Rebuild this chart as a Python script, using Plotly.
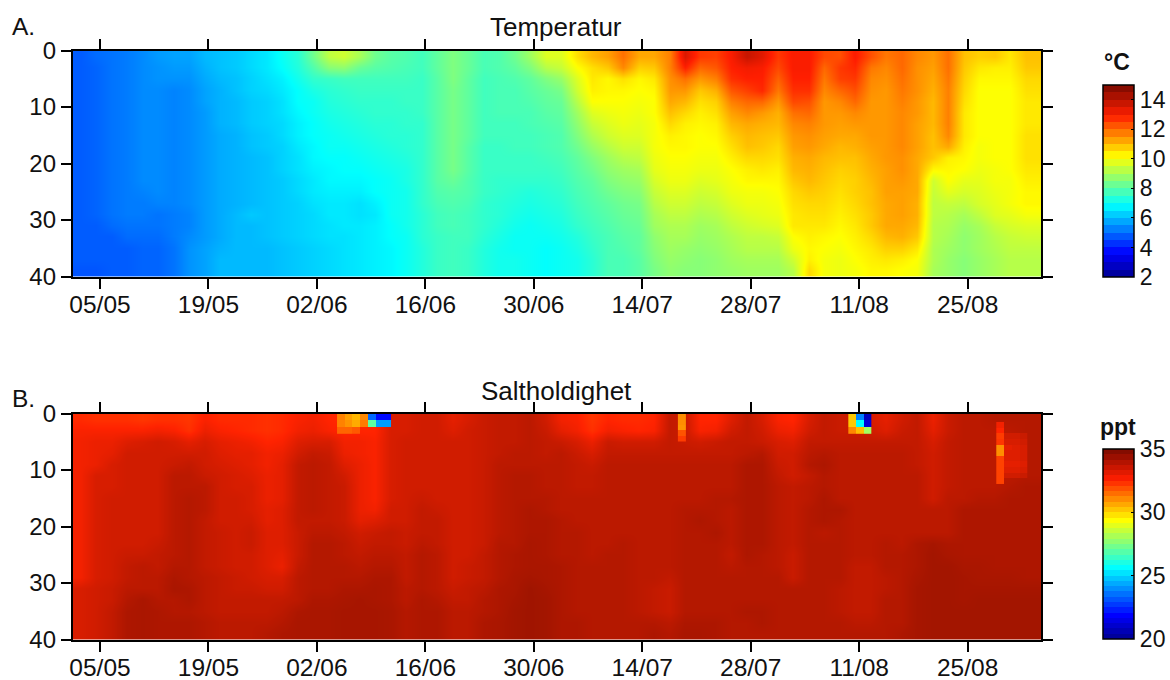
import plotly.graph_objects as go

FONT = "Liberation Sans, Arial, sans-serif"
W, H = 1170, 680

tick_days = [0, 14, 28, 42, 56, 70, 84, 98, 112]
tick_labels = ["05/05", "19/05", "02/06", "16/06", "30/06", "14/07", "28/07", "11/08", "25/08"]
depth_ticks = [0, 10, 20, 30, 40]

# column centres: days after 05/05, two-day cells
days = [-2.5 + 2 * i for i in range(63)]
depths = [1, 3, 5, 7, 9, 11, 13, 15, 17, 19, 21, 23, 25, 27, 29, 31, 33, 35, 37, 39]

# Temperature, one list per date, surface to bottom
temp_cols = [
    [4.8,4.8,4.8,4.8,4.8,4.8,4.8,4.8,4.8,4.8,4.8,4.8,4.8,4.8,4.8,4.8,4.8,4.8,4.8,4.7],
    [5.0,4.9,4.9,4.9,4.9,4.9,4.9,4.9,4.9,4.9,4.9,4.9,4.9,4.9,4.9,4.8,4.8,4.8,4.8,4.7],
    [5.1,5.1,5.1,5.1,5.1,5.1,5.1,5.1,5.1,5.1,5.1,5.1,5.1,5.1,5.1,5.0,4.8,4.8,4.8,4.8],
    [5.2,5.2,5.2,5.2,5.2,5.2,5.2,5.2,5.2,5.2,5.2,5.2,5.2,5.2,5.2,5.1,5.0,4.8,4.8,4.8],
    [5.4,5.4,5.4,5.4,5.4,5.4,5.4,5.4,5.4,5.4,5.4,5.4,5.3,5.2,5.2,5.1,5.0,4.9,4.9,4.9],
    [5.6,5.5,5.5,5.4,5.4,5.4,5.4,5.4,5.4,5.4,5.4,5.4,5.4,5.3,5.1,5.1,5.0,4.9,4.9,4.9],
    [5.7,5.6,5.5,5.3,5.3,5.3,5.3,5.3,5.3,5.3,5.3,5.3,5.3,5.3,5.2,5.2,5.2,5.1,5.1,5.1],
    [5.7,5.6,5.5,5.4,5.4,5.4,5.4,5.4,5.4,5.4,5.4,5.4,5.4,5.4,5.3,5.3,5.4,5.5,5.5,5.5],
    [6.0,5.9,5.8,5.7,5.7,5.6,5.6,5.6,5.6,5.6,5.6,5.6,5.6,5.6,5.6,5.6,5.6,5.7,5.7,5.7],
    [6.1,6.1,6.0,5.9,5.9,5.9,5.9,5.8,5.8,5.8,5.8,5.8,5.8,5.8,5.8,5.8,5.8,5.9,6.0,6.0],
    [6.2,6.2,6.1,6.1,6.0,6.0,6.0,5.9,5.9,5.9,5.9,5.9,5.9,5.9,6.0,6.0,6.0,6.0,6.0,6.0],
    [6.4,6.4,6.3,6.3,6.2,6.2,6.2,6.1,6.1,6.0,6.0,6.0,6.0,6.0,6.2,6.0,6.0,6.0,6.0,6.0],
    [6.6,6.6,6.5,6.4,6.3,6.3,6.3,6.2,6.2,6.1,6.1,6.1,6.1,6.1,6.1,6.1,6.1,6.0,6.0,6.0],
    [7.0,6.9,6.7,6.6,6.5,6.5,6.4,6.4,6.3,6.3,6.3,6.2,6.2,6.2,6.2,6.2,6.2,6.1,6.1,6.1],
    [7.4,7.3,7.1,6.9,6.9,6.8,6.7,6.7,6.6,6.5,6.5,6.4,6.4,6.3,6.3,6.3,6.3,6.2,6.2,6.2],
    [8.3,7.9,7.5,7.2,7.0,7.0,6.9,6.9,6.8,6.8,6.7,6.6,6.6,6.5,6.4,6.4,6.4,6.3,6.3,6.3],
    [9.3,8.6,7.6,7.4,7.3,7.2,7.1,7.0,7.0,6.9,6.8,6.8,6.7,6.6,6.6,6.5,6.5,6.4,6.4,6.4],
    [9.5,8.7,7.7,7.5,7.4,7.3,7.2,7.1,7.0,6.9,6.9,6.8,6.7,6.6,6.6,6.6,6.5,6.5,6.5,6.5],
    [9.0,8.2,7.7,7.6,7.5,7.4,7.3,7.2,7.1,7.0,6.9,6.8,6.7,6.5,6.5,6.6,6.6,6.6,6.6,6.6],
    [8.3,8.0,7.7,7.6,7.5,7.5,7.4,7.3,7.2,7.1,7.0,6.9,6.9,6.7,6.6,6.7,6.7,6.7,6.7,6.7],
    [8.0,7.9,7.7,7.6,7.5,7.5,7.4,7.4,7.3,7.2,7.1,7.0,7.0,7.0,7.0,6.9,6.9,6.8,6.8,6.8],
    [7.9,7.8,7.7,7.6,7.6,7.5,7.5,7.4,7.4,7.3,7.2,7.2,7.1,7.1,7.1,7.1,7.0,7.0,7.0,7.0],
    [7.7,7.7,7.6,7.6,7.6,7.6,7.5,7.5,7.5,7.5,7.5,7.5,7.5,7.5,7.4,7.4,7.4,7.3,7.3,7.3],
    [8.1,8.1,8.0,8.0,8.0,8.0,8.0,8.0,8.0,8.0,8.0,8.0,7.9,7.8,7.7,7.7,7.6,7.6,7.6,7.6],
    [8.5,8.5,8.5,8.4,8.4,8.4,8.4,8.4,8.4,8.4,8.4,8.2,8.0,7.9,7.8,7.8,7.7,7.7,7.7,7.7],
    [8.2,8.2,8.1,8.1,8.1,8.1,8.1,8.1,8.0,8.0,8.0,7.9,7.9,7.8,7.7,7.7,7.7,7.6,7.6,7.6],
    [7.8,7.8,7.7,7.7,7.7,7.7,7.7,7.7,7.6,7.6,7.6,7.6,7.6,7.5,7.5,7.5,7.4,7.3,7.3,7.3],
    [7.9,7.9,7.8,7.8,7.8,7.8,7.7,7.7,7.6,7.6,7.6,7.5,7.5,7.4,7.4,7.3,7.2,7.1,7.1,7.1],
    [8.3,8.1,7.9,7.8,7.8,7.8,7.7,7.7,7.7,7.6,7.6,7.5,7.4,7.3,7.2,7.1,7.0,7.0,7.1,7.1],
    [8.9,8.5,8.1,8.0,7.9,7.8,7.8,7.7,7.7,7.6,7.6,7.5,7.3,7.2,7.1,7.0,7.0,7.0,7.0,7.0],
    [9.7,9.2,8.5,8.2,8.1,8.0,7.9,7.8,7.8,7.7,7.6,7.5,7.4,7.3,7.2,7.1,7.0,6.9,6.9,6.9],
    [9.7,9.4,8.8,8.4,8.2,8.1,8.0,7.9,7.9,7.8,7.7,7.6,7.5,7.4,7.3,7.2,7.1,7.0,7.0,7.0],
    [10.5,10.1,9.7,9.5,9.2,8.9,8.7,8.5,8.3,8.1,8.0,7.9,7.8,7.7,7.6,7.5,7.3,7.2,7.1,7.1],
    [11.0,10.5,10.4,10.3,10.1,9.7,9.4,9.1,8.8,8.5,8.3,8.1,8.0,7.9,7.8,7.7,7.6,7.5,7.4,7.4],
    [11.3,10.8,10.2,10.2,10.1,9.9,9.7,9.5,9.2,8.9,8.7,8.5,8.3,8.1,8.0,7.9,7.8,7.8,7.8,7.8],
    [11.9,11.6,10.5,10.2,10.1,10.0,9.9,9.7,9.5,9.2,8.9,8.7,8.5,8.3,8.2,8.1,8.0,7.9,7.8,7.8],
    [11.2,10.7,10.2,10.1,10.0,9.9,9.8,9.7,9.5,9.3,9.0,8.8,8.6,8.4,8.3,8.2,8.1,8.1,8.0,8.0],
    [11.2,10.8,10.4,10.2,10.1,10.1,10.0,10.0,10.0,9.9,9.8,9.6,9.4,9.2,9.0,8.9,8.7,8.6,8.5,8.4],
    [11.7,11.7,11.5,11.4,11.2,10.9,10.6,10.3,10.2,10.1,10.0,9.9,9.7,9.5,9.3,9.1,9.0,8.9,8.8,8.7],
    [13.5,12.9,11.9,11.4,11.0,10.6,10.3,10.2,10.2,10.1,10.0,9.9,9.7,9.5,9.3,9.1,9.0,8.8,8.7,8.6],
    [12.6,12.0,11.4,10.8,10.5,10.3,10.2,10.1,10.1,10.0,9.9,9.7,9.5,9.3,9.1,8.9,8.8,8.7,8.6,8.6],
    [12.5,12.2,11.7,11.1,10.7,10.5,10.3,10.2,10.1,10.0,9.9,9.8,9.6,9.4,9.2,9.0,8.9,8.8,8.7,8.7],
    [13.0,12.9,12.7,12.2,11.7,11.3,11.0,10.7,10.5,10.3,10.1,10.0,9.9,9.7,9.5,9.3,9.1,9.0,8.9,8.8],
    [13.8,13.1,12.9,12.5,12.0,11.6,11.2,11.0,10.9,10.6,10.3,10.2,10.0,9.9,9.7,9.5,9.3,9.2,9.0,8.9],
    [13.4,13.0,12.9,12.8,12.0,11.4,11.1,10.9,10.8,10.6,10.4,10.2,10.0,9.9,9.8,9.6,9.3,9.2,9.0,8.9],
    [12.6,12.4,12.1,11.8,11.4,11.1,11.0,10.8,10.6,10.5,10.3,10.2,10.1,10.0,9.9,9.7,9.4,9.2,9.0,8.9],
    [13.0,13.0,12.9,12.7,12.4,11.9,11.6,11.4,11.3,11.1,11.0,10.8,10.6,10.5,10.4,10.4,10.1,9.9,9.5,9.2],
    [13.0,13.0,12.9,12.7,12.3,12.0,11.7,11.5,11.4,11.2,11.1,11.0,10.8,10.6,10.5,10.4,10.3,10.2,10.3,10.6],
    [12.4,12.0,11.8,11.6,11.4,11.4,11.4,11.3,11.2,11.0,10.9,10.8,10.7,10.6,10.5,10.4,10.2,10.1,10.0,10.0],
    [12.3,12.6,12.5,12.0,11.6,11.4,11.3,11.2,11.0,10.9,10.7,10.6,10.5,10.4,10.3,10.2,10.1,10.0,9.9,9.9],
    [13.0,12.8,12.6,12.3,12.0,11.6,11.4,11.2,11.1,10.9,10.8,10.7,10.7,10.6,10.5,10.4,10.3,10.2,10.1,10.0],
    [12.3,11.8,11.6,11.5,11.4,11.4,11.4,11.4,11.3,11.2,11.1,11.0,10.9,10.9,10.8,10.8,10.6,10.4,10.3,10.2],
    [11.8,11.6,11.5,11.4,11.4,11.4,11.4,11.4,11.4,11.4,11.3,11.3,11.3,11.2,11.2,11.2,11.0,10.7,10.4,10.2],
    [12.0,12.0,11.9,11.8,11.7,11.6,11.6,11.6,11.6,11.5,11.5,11.4,11.3,11.3,11.3,11.2,11.1,10.7,10.3,10.1],
    [11.6,11.5,11.5,11.5,11.4,11.4,11.3,11.3,11.3,11.2,11.2,11.2,11.2,11.1,11.1,11.0,10.8,10.4,10.1,10.0],
    [11.4,11.3,11.2,11.1,11.0,11.0,11.0,10.9,10.9,10.8,10.2,9.5,9.4,9.3,9.3,9.2,9.2,9.1,9.1,9.0],
    [11.9,11.9,11.8,11.7,11.7,11.7,11.7,11.6,11.2,10.3,10.2,10.1,9.8,9.4,9.2,9.1,9.0,8.9,8.8,8.8],
    [10.9,10.8,10.7,10.6,10.5,10.4,10.4,10.4,10.3,10.2,10.1,9.8,9.6,9.3,9.0,8.8,8.7,8.7,8.6,8.6],
    [10.7,10.4,10.2,10.1,10.1,10.1,10.1,10.1,10.0,10.0,9.9,9.8,9.7,9.6,9.3,9.0,8.9,8.9,8.8,8.8],
    [10.8,10.3,10.2,10.1,10.1,10.1,10.1,10.1,10.1,10.1,10.0,10.0,9.9,9.8,9.7,9.4,9.2,9.1,9.0,9.0],
    [10.4,10.3,10.2,10.1,10.1,10.1,10.1,10.1,10.1,10.1,10.1,10.0,10.0,10.0,9.8,9.6,9.4,9.3,9.2,9.2],
    [10.9,10.8,10.6,10.5,10.4,10.4,10.4,10.5,10.5,10.5,10.4,10.3,10.2,10.2,10.0,9.7,9.5,9.3,9.2,9.2],
    [10.9,10.8,10.6,10.5,10.4,10.4,10.4,10.5,10.5,10.5,10.4,10.3,10.2,10.2,10.0,9.7,9.5,9.3,9.2,9.2],
]

# Salinity, one list per date, surface to bottom
salt_cols = [
    [33.0,33.2,33.3,33.3,33.3,33.3,33.3,33.3,33.3,33.3,33.3,33.3,33.3,33.3,33.3,33.7,33.7,33.7,33.7,33.7],
    [32.9,33.2,33.4,33.4,33.4,33.7,33.7,33.7,33.7,33.7,33.7,33.7,33.7,33.7,33.7,33.8,33.8,33.8,33.8,33.8],
    [32.9,33.2,33.4,33.5,33.7,33.7,33.7,33.8,33.8,33.8,33.8,33.8,33.8,33.8,33.8,33.9,33.9,34.0,34.0,34.0],
    [32.9,33.2,33.6,33.8,33.8,33.8,33.8,33.8,33.8,33.8,33.8,33.8,33.9,34.0,34.0,34.1,34.2,34.3,34.3,34.3],
    [32.8,33.2,33.7,33.8,33.8,33.8,33.8,33.8,33.8,33.8,33.8,33.8,33.9,34.1,34.1,34.1,34.35,34.35,34.35,34.35],
    [32.9,33.3,33.8,33.8,33.8,33.8,33.8,33.8,33.8,33.8,33.8,33.9,34.0,34.0,34.1,34.1,34.2,34.3,34.3,34.3],
    [32.9,33.2,33.7,33.8,33.9,34.1,34.1,34.1,34.1,34.1,34.1,34.1,34.1,34.2,34.3,34.35,34.2,34.2,34.3,34.3],
    [32.8,32.9,33.5,33.8,34.0,34.1,34.1,34.2,34.2,34.2,34.2,34.2,34.2,34.2,34.2,34.3,34.3,34.2,34.3,34.3],
    [33.2,33.4,33.7,33.8,33.8,33.9,34.1,34.1,34.1,34.0,34.0,34.0,34.0,34.0,34.1,34.1,34.1,34.1,34.2,34.2],
    [33.0,33.2,33.5,33.6,33.7,33.8,33.8,33.8,33.8,33.8,33.9,33.9,33.9,33.9,34.0,34.0,34.0,34.0,34.1,34.1],
    [33.0,33.1,33.4,33.5,33.6,33.7,33.7,33.8,33.8,33.8,33.8,33.8,33.8,33.8,33.9,33.9,34.0,34.0,34.1,34.1],
    [33.0,33.0,33.3,33.5,33.5,33.6,33.7,33.7,33.7,33.8,33.9,33.9,33.8,33.8,33.8,33.9,34.0,34.0,34.1,34.1],
    [32.9,32.9,33.1,33.3,33.3,33.4,33.4,33.4,33.5,33.5,33.6,33.6,33.6,33.6,33.7,33.8,34.0,34.0,34.1,34.2],
    [33.0,33.0,33.2,33.4,33.5,33.5,33.5,33.5,33.6,33.6,33.6,33.6,33.5,33.4,33.7,33.8,34.0,34.1,34.2,34.3],
    [33.2,33.3,33.6,33.8,34.0,34.0,34.0,34.0,34.0,34.0,33.9,33.9,33.9,34.0,34.1,34.1,34.1,34.3,34.35,34.35],
    [33.3,33.4,33.7,34.0,34.1,34.1,34.1,34.1,34.1,34.0,34.1,34.2,34.2,34.2,34.2,34.2,34.3,34.35,34.35,34.35],
    [33.1,33.2,33.7,33.9,34.0,34.0,34.0,34.0,34.0,34.0,34.1,34.2,34.2,34.2,34.2,34.2,34.3,34.35,34.35,34.35],
    [33.0,33.1,33.3,33.4,33.6,33.8,33.9,33.9,33.9,33.9,34.0,34.1,34.1,34.2,34.2,34.3,34.35,34.4,34.4,34.4],
    [33.0,33.1,33.3,33.3,33.4,33.4,33.4,33.4,33.4,33.5,33.8,33.9,34.0,34.1,34.2,34.3,34.4,34.4,34.4,34.4],
    [33.1,33.1,33.2,33.2,33.2,33.2,33.2,33.2,33.3,33.6,33.9,34.0,34.1,34.2,34.3,34.35,34.35,34.4,34.4,34.4],
    [33.7,33.7,33.7,33.7,33.7,33.7,33.7,33.7,33.8,33.8,34.0,34.0,34.1,34.2,34.3,34.3,34.3,34.35,34.35,34.35],
    [33.7,33.7,33.8,33.8,33.8,33.8,33.8,33.8,33.8,33.8,33.9,33.9,34.0,34.0,34.0,34.1,34.1,34.2,34.2,34.2],
    [33.8,33.8,33.8,33.8,33.8,33.8,33.8,33.9,34.0,34.0,34.0,34.1,34.2,34.2,34.2,34.2,34.3,34.3,34.3,34.3],
    [33.8,33.8,33.8,33.8,33.8,33.8,33.8,33.8,33.9,34.0,34.0,34.0,34.1,34.1,34.1,34.1,34.2,34.3,34.3,34.3],
    [33.5,33.6,33.8,33.8,33.8,33.8,33.8,33.8,33.8,33.8,33.8,33.8,33.8,33.8,33.8,33.9,34.0,34.1,34.1,34.1],
    [33.7,33.8,33.8,33.8,33.8,33.8,33.8,33.8,33.8,33.8,33.8,33.8,33.8,33.9,33.9,34.0,34.0,34.1,34.1,34.1],
    [33.9,33.9,33.9,33.9,33.9,33.9,33.9,33.9,33.9,33.9,33.9,33.9,34.0,34.0,34.0,34.1,34.2,34.2,34.3,34.3],
    [34.0,34.0,34.0,34.0,34.1,34.1,34.1,34.1,34.1,34.1,34.1,34.2,34.2,34.2,34.2,34.3,34.3,34.3,34.35,34.35],
    [34.0,34.0,34.0,34.1,34.1,34.2,34.2,34.2,34.2,34.2,34.2,34.2,34.3,34.3,34.35,34.35,34.4,34.45,34.45,34.45],
    [34.1,34.1,34.1,34.1,34.1,34.2,34.2,34.2,34.3,34.3,34.3,34.35,34.35,34.35,34.4,34.5,34.5,34.5,34.5,34.5],
    [33.8,33.9,34.0,34.0,34.1,34.1,34.1,34.2,34.2,34.3,34.3,34.3,34.3,34.35,34.35,34.4,34.45,34.45,34.45,34.45],
    [33.3,33.5,33.9,34.1,34.1,34.1,34.1,34.1,34.1,34.2,34.2,34.2,34.2,34.3,34.3,34.3,34.3,34.3,34.3,34.3],
    [33.2,33.3,33.7,33.9,34.0,34.0,34.0,34.1,34.1,34.1,34.2,34.2,34.2,34.2,34.2,34.2,34.2,34.2,34.3,34.3],
    [32.8,32.9,33.4,33.7,33.9,34.0,34.0,34.1,34.1,34.1,34.1,34.1,34.1,34.2,34.2,34.2,34.2,34.2,34.2,34.2],
    [33.1,33.3,33.9,34.0,34.1,34.1,34.1,34.1,34.1,34.1,34.1,34.1,34.2,34.2,34.2,34.2,34.2,34.2,34.2,34.2],
    [33.0,33.2,33.8,34.0,34.1,34.1,34.1,34.1,34.1,34.1,34.1,34.2,34.2,34.2,34.2,34.2,34.2,34.2,34.2,34.2],
    [33.0,33.1,33.8,34.0,34.1,34.1,34.1,34.1,34.1,34.1,34.1,34.1,34.1,34.1,34.1,34.1,34.1,34.1,34.2,34.2],
    [33.1,33.2,33.8,34.0,34.1,34.1,34.1,34.1,34.1,34.1,34.1,34.1,34.1,34.1,34.1,34.0,34.0,34.0,34.2,34.3],
    [34.0,34.0,34.0,34.0,34.1,34.1,34.1,34.1,34.1,34.1,34.1,34.1,34.1,34.1,34.0,33.9,33.9,33.9,34.1,34.2],
    [33.9,33.9,33.9,34.0,34.1,34.1,34.1,34.1,34.2,34.2,34.2,34.2,34.2,34.2,34.2,34.2,34.2,34.2,34.3,34.35],
    [33.1,33.2,33.8,34.0,34.1,34.1,34.1,34.1,34.2,34.3,34.2,34.2,34.2,34.2,34.2,34.2,34.2,34.2,34.3,34.35],
    [33.1,33.3,33.9,34.0,34.1,34.1,34.1,34.2,34.2,34.2,34.3,34.2,34.2,34.2,34.2,34.2,34.2,34.2,34.3,34.3],
    [33.6,33.8,34.0,34.0,34.1,34.1,34.1,34.2,34.1,34.1,34.1,34.1,34.0,34.1,34.2,34.2,34.2,34.2,34.2,34.2],
    [34.0,34.0,34.0,34.1,34.3,34.3,34.3,34.3,34.3,34.3,34.3,34.3,34.3,34.2,34.2,34.2,34.2,34.3,34.2,34.2],
    [33.7,33.8,33.9,34.2,34.3,34.3,34.3,34.3,34.3,34.3,34.3,34.3,34.2,34.2,34.2,34.2,34.2,34.3,34.3,34.2],
    [33.2,33.4,33.7,33.8,33.9,34.0,34.1,34.1,34.1,34.1,34.1,34.1,34.1,34.1,34.2,34.2,34.2,34.2,34.2,34.2],
    [33.1,33.3,33.6,33.8,33.8,33.8,34.0,34.0,34.0,34.0,34.0,34.0,33.9,33.9,33.9,34.2,34.2,34.2,34.2,34.2],
    [33.7,33.8,34.0,34.1,34.2,34.0,34.1,34.1,34.2,34.2,34.2,34.2,34.2,34.2,34.2,34.2,34.2,34.2,34.2,34.2],
    [34.0,34.0,34.0,34.2,34.3,34.2,34.2,34.3,34.3,34.3,34.1,34.2,34.2,34.2,34.2,34.2,34.2,34.2,34.2,34.2],
    [33.9,33.9,34.0,34.1,34.1,34.1,34.1,34.1,34.3,34.2,34.2,34.2,34.2,34.2,34.2,34.1,34.1,34.1,34.2,34.2],
    [33.9,33.9,34.0,34.1,34.1,34.1,34.1,34.1,34.1,34.1,34.1,34.1,34.1,34.0,34.0,34.0,34.0,34.0,34.1,34.2],
    [33.7,33.8,34.0,34.1,34.1,34.1,34.1,34.1,34.1,34.1,34.1,34.1,34.1,34.0,34.0,34.0,34.0,34.0,34.1,34.2],
    [33.5,33.6,34.0,34.1,34.1,34.1,34.1,34.1,34.1,34.1,34.1,34.2,34.2,34.2,34.1,34.1,34.2,34.2,34.2,34.2],
    [33.8,33.9,34.0,34.1,34.1,34.1,34.1,34.1,34.1,34.1,34.1,34.1,34.2,34.2,34.2,34.2,34.2,34.2,34.2,34.3],
    [34.0,34.0,34.0,34.0,34.0,34.1,34.1,34.1,34.1,34.1,34.1,34.3,34.3,34.3,34.35,34.4,34.4,34.4,34.4,34.4],
    [33.4,33.5,33.7,33.8,33.8,33.8,33.8,33.8,34.1,34.1,34.1,34.4,34.45,34.45,34.45,34.45,34.45,34.45,34.45,34.45],
    [33.9,33.9,34.0,34.0,34.0,34.0,34.0,34.1,34.1,34.1,34.1,34.3,34.35,34.45,34.45,34.45,34.45,34.45,34.45,34.45],
    [34.1,34.1,34.1,34.1,34.1,34.1,34.1,34.1,34.3,34.3,34.3,34.3,34.3,34.35,34.4,34.4,34.4,34.45,34.45,34.45],
    [34.1,34.1,34.1,34.1,34.1,34.1,34.1,34.2,34.3,34.3,34.3,34.3,34.3,34.35,34.35,34.4,34.45,34.45,34.45,34.45],
    [34.2,34.1,34.1,34.1,34.1,34.1,34.1,34.2,34.3,34.3,34.3,34.3,34.3,34.3,34.35,34.4,34.45,34.45,34.45,34.45],
    [34.2,34.1,34.1,34.1,34.1,34.1,34.2,34.3,34.3,34.3,34.3,34.3,34.3,34.3,34.35,34.4,34.45,34.45,34.45,34.45],
    [34.2,34.2,34.2,34.2,34.2,34.2,34.3,34.3,34.3,34.3,34.3,34.3,34.3,34.3,34.3,34.4,34.45,34.45,34.45,34.45],
    [34.2,34.2,34.2,34.2,34.2,34.2,34.3,34.3,34.3,34.3,34.3,34.3,34.3,34.3,34.3,34.4,34.45,34.45,34.45,34.45],
]

# Fine freshwater patches on one-day cells (value or None by depth row)
fresh_jun_days = [31.1, 32.1, 33.1, 34.1, 35.1, 36.1, 37.1]
fresh_jun_depths = [0.5, 1.75, 3.0]
fresh_jun = [
    [31.5, 31.0, 30.6, 31.4, 23.4, 22.0, 22.0],
    [31.5, 31.2, 30.8, 31.6, 27.0, 24.2, 24.2],
    [32.0, 32.0, 32.2, None, None, None, None],
]
fresh_aug_days = [97.1, 98.1, 99.1]
fresh_aug_depths = [0.5, 1.75, 3.0]
fresh_aug = [
    [30.3, 23.8, 20.8],
    [30.3, 25.6, 21.2],
    [31.4, 30.5, 28.0],
]
fresh_jul_days = [75.1]
fresh_jul_depths = [0.5, 1.5, 2.5, 3.5, 4.5]
fresh_jul = [[31.3], [31.3], [31.2], [32.3], [32.7]]
fresh_sep_days = [116.2, 117.2, 118.2, 119.2]
fresh_sep_depths = [2, 3, 4, 5, 6, 7, 8, 9, 10, 11, 12]
fresh_sep = [
    [33.3, None, None, None],
    [33.1, None, None, None],
    [32.7, 33.8, 33.8, 33.9],
    [32.8, 33.7, 33.7, 33.8],
    [31.3, 33.5, 33.6, 33.7],
    [31.3, 33.6, 33.6, 33.7],
    [32.6, 33.6, 33.6, 33.7],
    [32.6, 33.5, 33.5, 33.6],
    [32.6, 33.6, 33.6, 33.7],
    [32.6, 33.8, 33.8, 33.9],
    [32.6, None, None, None],
]


def transpose(cols):
    return [list(r) for r in zip(*cols)]


DATA_ANCHORS = [(0, (0, 0, 143)), (0.125, (0, 0, 255)), (0.375, (0, 255, 255)),
                (0.625, (255, 255, 0)), (0.875, (255, 35, 0)), (1, (125, 15, 0))]
TEMP_ANCHORS = [(0, (0, 0, 143)), (0.125, (0, 0, 255)), (0.375, (0, 255, 255)),
                (0.625, (255, 255, 0)), (0.84, (255, 30, 0)), (1, (120, 10, 0))]


def rgb(c):
    return "rgb(%d,%d,%d)" % c


def smooth_jet(anchors):
    return [[t, rgb(c)] for t, c in anchors]


def stepped_jet(n, anchors):
    def col(t):
        for (a, ca), (b, cb) in zip(anchors, anchors[1:]):
            if t <= b:
                f = (t - a) / (b - a)
                return tuple(round(x + (y - x) * f) for x, y in zip(ca, cb))
    scale = []
    for i in range(n):
        c = rgb(col((i + 0.5) / n))
        scale += [[i / n, c], [(i + 1) / n, c]]
    return scale


fig = go.Figure()
# each field is drawn as plain cells, then smoothed on top; the cells fill the frame's edge pixels
for cols, cax, xa, ya in [(temp_cols, "coloraxis", "x", "y"), (salt_cols, "coloraxis2", "x2", "y2")]:
    fig.add_trace(go.Heatmap(x=days, y=depths, z=transpose(cols), coloraxis=cax, xaxis=xa, yaxis=ya))
    fig.add_trace(go.Heatmap(x=days, y=depths, z=transpose(cols), coloraxis=cax, xaxis=xa, yaxis=ya,
                             zsmooth="best"))
for dx_, dy_, zz in [(fresh_jun_days, fresh_jun_depths, fresh_jun),
                     (fresh_aug_days, fresh_aug_depths, fresh_aug),
                     (fresh_sep_days, fresh_sep_depths, fresh_sep)]:
    fig.add_trace(go.Heatmap(x=dx_, y=dy_, z=zz, coloraxis="coloraxis2", xaxis="x2", yaxis="y2"))
fig.add_trace(go.Heatmap(x0=fresh_jul_days[0], dx=1, y=fresh_jul_depths, z=fresh_jul,
                         coloraxis="coloraxis2", xaxis="x2", yaxis="y2"))
# empty traces that carry the banded colour bars
fig.add_trace(go.Scatter(x=[None], y=[None], mode="markers", xaxis="x", yaxis="y", showlegend=False,
                         marker=dict(coloraxis="coloraxis3", color=[2])))
fig.add_trace(go.Scatter(x=[None], y=[None], mode="markers", xaxis="x2", yaxis="y2", showlegend=False,
                         marker=dict(coloraxis="coloraxis4", color=[20])))


def xax(anchor):
    return dict(range=[-3.5, 121.5], tickvals=tick_days, ticktext=tick_labels, anchor=anchor,
                domain=[73 / W, 1043 / W], ticks="outside", ticklen=10, tickwidth=2, tickcolor="black",
                showline=True, linecolor="black", linewidth=2, mirror="ticks", showgrid=False, automargin=False,
                zeroline=False, tickfont=dict(family=FONT, size=24.5, color="#111"), tickangle=0,
                ticklabelstandoff=-5)


def yax(anchor, top, bottom):
    return dict(range=[40, 0], tickvals=depth_ticks, anchor=anchor,
                domain=[1 - bottom / H, 1 - top / H], ticks="outside", ticklen=10, tickwidth=2,
                tickcolor="black", showline=True, linecolor="black", linewidth=2, mirror="ticks", automargin=False,
                showgrid=False, zeroline=False, tickfont=dict(family=FONT, size=24, color="#111"))


def cbar(top, length, vals):
    return dict(x=1105 / W, xanchor="left", y=1 - top / H, yanchor="top", len=length, lenmode="pixels",
                thickness=31, thicknessmode="pixels", xpad=0, ypad=0, tickvals=vals,
                ticks="inside", ticklen=3, tickcolor="black", outlinecolor="black", outlinewidth=1.5,
                tickfont=dict(family=FONT, size=23, color="#111"))


def label(text, x, y, size=26, bold=False):
    return dict(text="<b>%s</b>" % text if bold else text, x=x / W, y=1 - y / H, xref="paper", yref="paper",
                showarrow=False, xanchor="center", yanchor="middle",
                font=dict(family=FONT, size=size, color="#111"))


fig.update_layout(
    width=W, height=H, margin=dict(l=0, r=0, t=0, b=0), paper_bgcolor="white", plot_bgcolor="white",
    showlegend=False,
    xaxis=xax("y"), yaxis=yax("x", 50.5, 276.5),
    xaxis2=xax("y2"), yaxis2=yax("x2", 413.5, 639.5),
    coloraxis=dict(cmin=2, cmax=15, colorscale=smooth_jet(TEMP_ANCHORS), showscale=False),
    coloraxis2=dict(cmin=20, cmax=35, colorscale=smooth_jet(DATA_ANCHORS), showscale=False),
    coloraxis3=dict(cmin=2, cmax=15, colorscale=stepped_jet(26, TEMP_ANCHORS),
                    colorbar=cbar(85, 192, [2, 4, 6, 8, 10, 12, 14])),
    coloraxis4=dict(cmin=20, cmax=35, colorscale=stepped_jet(36, TEMP_ANCHORS),
                    colorbar=cbar(449, 190, [20, 25, 30, 35])),
    annotations=[
        label("A.", 24, 27, 24.5), label("B.", 24, 398, 24.5),
        label("Temperatur", 557, 27), label("Saltholdighet", 557, 391),
        label("°C", 1119, 62, 23, True), label("ppt", 1120, 427, 23, True),
    ],
)

fig.write_html("out.html", post_script="document.body.style.margin='0';",
               config=dict(displayModeBar=False))
